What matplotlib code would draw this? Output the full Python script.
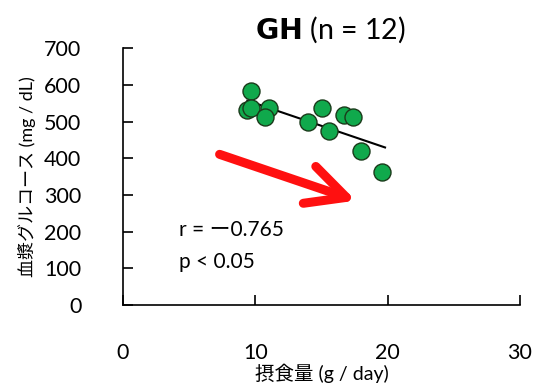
import numpy as np
import matplotlib.pyplot as plt

plt.rcParams['font.family'] = ['Lato', 'Noto Sans CJK JP', 'DejaVu Sans']

# food intake (g/day) vs plasma glucose (mg/dL)
intake = [9.7, 9.4, 9.7, 11.0, 10.7, 14.0, 15.0, 15.6, 16.7, 17.4, 18.0, 19.6]
glucose = [584, 531, 536, 537, 511, 498, 537, 474, 517, 513, 420, 362]

x_ticks = [0, 10, 20, 30]
y_ticks = [0, 100, 200, 300, 400, 500, 600, 700]

arrow_start = (7.1, 413)
arrow_end = (17.8, 282)

fig = plt.figure(figsize=(5.38, 3.84), dpi=100)
ax = fig.add_axes([0.2286, 0.2057, 0.738, 0.669])

slope, icpt = np.polyfit(intake, glucose, 1)
fx = np.array([min(intake), max(intake) + 0.2])
ax.plot(fx, slope * fx + icpt, color='black', lw=1.5, zorder=2)

ax.scatter(intake, glucose, s=150, color='#10a94c', edgecolor='#1a3a1a',
           linewidth=1.0, zorder=3)

ax.annotate('', xy=arrow_end, xytext=arrow_start,
            arrowprops=dict(arrowstyle='->,head_length=2.8,head_width=1.4',
                            color='#ff1010', lw=6.5, mutation_scale=10))

ax.text(4.2, 204, 'r = \u30fc0.765', fontsize=15, va='center')
ax.text(4.2, 117, 'p < 0.05', fontsize=15, va='center')

ax.set_xlim(0, 30)
ax.set_ylim(0, 700)
ax.set_xticks(x_ticks)
ax.set_yticks(y_ticks)
ax.tick_params(direction='in', length=7, width=1.2, labelsize=15.5)
ax.tick_params(axis='y', pad=30)
ax.tick_params(axis='x', pad=27)
for s in ['top', 'right']:
    ax.spines[s].set_visible(False)
for s in ['left', 'bottom']:
    ax.spines[s].set_linewidth(1.2)

ax.set_ylabel('血漿グルコース (mg / dL)', fontsize=13, labelpad=6)
ax.set_xlabel('摂食量 (g / day)', fontsize=14, labelpad=1)

fig.text(0.614, 0.922, r'$\bf{GH}$' + ' (n = 12)', fontsize=20.5, ha='center', va='center')

fig.savefig('out.png', dpi=100)
